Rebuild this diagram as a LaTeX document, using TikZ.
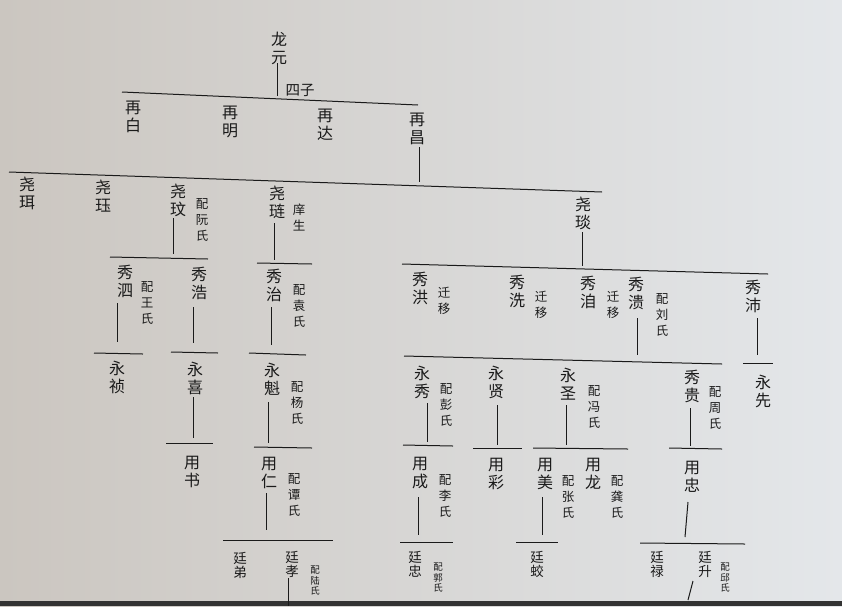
\documentclass[tikz,border=0pt]{standalone}
\usepackage{fontspec}
\newfontfamily\cjk{Noto Sans CJK SC}
\definecolor{ink}{HTML}{1A1A1A}
\definecolor{paperL}{HTML}{CBC6C0}
\definecolor{paperR}{HTML}{E4E7EA}
\tikzset{
  nm/.style={font=\cjk\fontsize{16}{18}\selectfont, align=center, inner sep=0pt, text=ink},
  sp/.style={font=\cjk\fontsize{12.5}{16}\selectfont, align=center, inner sep=0pt, text=ink},
  tn/.style={font=\cjk\fontsize{9.5}{10.5}\selectfont, align=center, inner sep=0pt, text=ink},
  tg/.style={font=\cjk\fontsize{13.5}{14}\selectfont, align=center, inner sep=0pt, text=ink},
  ln/.style={draw=ink, line width=1pt},
}
\begin{document}
\begin{tikzpicture}[x=1pt,y=-1pt]
\shade[left color=paperL, right color=paperR] (0,0) rectangle (842,606);
\fill[black!80] (0,601) rectangle (842,606);
\useasboundingbox (0,0) rectangle (842,606);

% ---------- names ----------
\node[nm] (longyuan) at (279,48) {龙\\元};
\node[nm, font=\cjk\fontsize{14.5}{16}\selectfont] (sizi) at (300,90) {四子};

\node[nm] (zbai)  at (133,117) {再\\白};
\node[nm] (zming) at (230,122) {再\\明};
\node[nm] (zda)   at (325,125) {再\\达};
\node[nm] (zchang) at (417,129) {再\\昌};

\node[nm] (yer)  at (27,193)  {尧\\珥};
\node[nm] (yjue) at (103,196) {尧\\珏};
\node[nm] (ywen) at (178,200) {尧\\玟};
\node[sp] (ywenp) at (202,220) {配\\阮\\氏};
\node[nm] (ylian) at (277,202) {尧\\琏};
\node[sp] (ylianp) at (299,217) {庠\\生};
\node[nm] (yyan) at (583,213) {尧\\琰};

\node[nm] (xsi)  at (125,281) {秀\\泗};
\node[sp] (xsip) at (147,303) {配\\王\\氏};
\node[nm] (xhao) at (199,283) {秀\\浩};
\node[nm] (xzhi) at (274,285) {秀\\治};
\node[sp] (xzhip) at (299,306) {配\\袁\\氏};
\node[nm] (xhong) at (420,288) {秀\\洪};
\node[sp] (xhongp) at (444,301) {迁\\移};
\node[nm] (xxi) at (517,291) {秀\\洗};
\node[sp] (xxip) at (541,305) {迁\\移};
\node[nm] (xji) at (588,292) {秀\\洎};
\node[sp] (xjip) at (613,305) {迁\\移};
\node[nm] (xkui) at (636,293) {秀\\溃};
\node[sp] (xkuip) at (662,315) {配\\刘\\氏};
\node[nm] (xpei) at (753,296) {秀\\沛};

\node[nm] (yzhen) at (117,377) {永\\祯};
\node[nm] (yxi)   at (195,378) {永\\喜};
\node[nm] (ykui)  at (272,379) {永\\魁};
\node[sp] (ykuip) at (297,403) {配\\杨\\氏};
\node[nm] (yxiu)  at (422,382) {永\\秀};
\node[sp] (yxiup) at (446,405) {配\\彭\\氏};
\node[nm] (yxian) at (496,382) {永\\贤};
\node[nm] (ysheng) at (568,384) {永\\圣};
\node[sp] (yshengp) at (594,407) {配\\冯\\氏};
\node[nm] (xgui)  at (692,386) {秀\\贵};
\node[sp] (xguip) at (715,408) {配\\周\\氏};
\node[nm] (yxianx) at (763,391) {永\\先};

\node[nm] (ushu)  at (192,472) {用\\书};
\node[nm] (uren)  at (269,473) {用\\仁};
\node[sp] (urenp) at (294,495) {配\\谭\\氏};
\node[nm] (ucheng) at (420,473) {用\\成};
\node[sp] (uchengp) at (445,496) {配\\李\\氏};
\node[nm] (ucai)  at (496,474) {用\\彩};
\node[nm] (umei)  at (545,474) {用\\美};
\node[sp] (umeip) at (568,497) {配\\张\\氏};
\node[nm] (ulong) at (593,474) {用\\龙};
\node[sp] (ulongp) at (617,497) {配\\龚\\氏};
\node[nm] (uzhong) at (692,477) {用\\忠};

\node[tg] (tdi)  at (240,565) {廷\\弟};
\node[tg] (txiao) at (292,564) {廷\\孝};
\node[tn] (txiaop) at (315,581) {配\\陆\\氏};
\node[tg] (tzhong) at (415,564) {廷\\忠};
\node[tn] (tzhongp) at (438,578) {配\\郭\\氏};
\node[tg] (tjiao) at (537,564) {廷\\蛟};
\node[tg] (tlu) at (657,564) {廷\\禄};
\node[tg] (tsheng) at (705,564) {廷\\升};
\node[tn] (tshengp) at (725,578) {配\\邱\\氏};

% ---------- connector points ----------
\coordinate (v0a) at (277,63);  \coordinate (v0b) at (277,96);
\coordinate (b0a) at (122,92);  \coordinate (b0b) at (418,105);
\coordinate (v1a) at (419,147); \coordinate (v1b) at (419,182);
\coordinate (b1a) at (9,172);   \coordinate (b1b) at (602,192);

\coordinate (vwa) at (173,218); \coordinate (vwb) at (173,254);
\coordinate (bwa) at (110,257); \coordinate (bwb) at (208,259);
\coordinate (vsia) at (117,303); \coordinate (vsib) at (117,342);
\coordinate (bsia) at (94,353);  \coordinate (bsib) at (143,354);
\coordinate (vhaoa) at (193,307); \coordinate (vhaob) at (193,343);
\coordinate (bhaoa) at (171,352); \coordinate (bhaob) at (218,353);
\coordinate (vxia) at (193,397); \coordinate (vxib) at (193,438);
\coordinate (bxia) at (166,443); \coordinate (bxib) at (213,443);

\coordinate (vla) at (274,223); \coordinate (vlb) at (274,260);
\coordinate (bla) at (257,263); \coordinate (blb) at (312,264);
\coordinate (vzha) at (271,307); \coordinate (vzhb) at (271,345);
\coordinate (bzha) at (249,353); \coordinate (bzhb) at (306,355);
\coordinate (vka) at (268,402); \coordinate (vkb) at (268,443);
\coordinate (bka) at (254,447); \coordinate (bkb) at (312,448);
\coordinate (vra) at (266,493); \coordinate (vrb) at (266,530);
\coordinate (bra) at (223,540); \coordinate (brb) at (333,540);
\coordinate (vtxa) at (288,578); \coordinate (vtxb) at (288,606);

\coordinate (vya) at (582,232); \coordinate (vyb) at (582,266);
\coordinate (bya) at (402,264); \coordinate (byb) at (768,274);
\coordinate (vkua) at (637,318); \coordinate (vkub) at (637,355);
\coordinate (bkua) at (404,356); \coordinate (bkub) at (722,364);
\coordinate (vpa) at (757,318); \coordinate (vpb) at (757,355);
\coordinate (bpa) at (743,363); \coordinate (bpb) at (773,363);

\coordinate (vxua) at (427,403); \coordinate (vxub) at (427,442);
\coordinate (bxua) at (403,445); \coordinate (bxub) at (453,446);
\coordinate (vcha) at (418,497); \coordinate (vchb) at (418,535);
\coordinate (bcha) at (400,542); \coordinate (bchb) at (453,542);
\coordinate (vxna) at (497,405); \coordinate (vxnb) at (497,445);
\coordinate (bxna) at (473,448); \coordinate (bxnb) at (522,448);
\coordinate (vsha) at (566,405); \coordinate (vshb) at (566,445);
\coordinate (bsha) at (533,448); \coordinate (bshb) at (628,449);
\coordinate (vmea) at (542,497); \coordinate (vmeb) at (542,535);
\coordinate (bmea) at (516,542); \coordinate (bmeb) at (558,542);
\coordinate (vgua) at (690,408); \coordinate (vgub) at (690,446);
\coordinate (bgua) at (669,448); \coordinate (bgub) at (722,449);
\coordinate (vzoa) at (688,502); \coordinate (vzob) at (685,537);
\coordinate (bzoa) at (640,543); \coordinate (bzob) at (745,544);
\coordinate (vtsa) at (693,581); \coordinate (vtsb) at (688,600);

% ---------- connectors ----------
\foreach \a/\b in {v0a/v0b,b0a/b0b,v1a/v1b,b1a/b1b,
  vwa/vwb,bwa/bwb,vsia/vsib,bsia/bsib,vhaoa/vhaob,bhaoa/bhaob,vxia/vxib,bxia/bxib,
  vla/vlb,bla/blb,vzha/vzhb,bzha/bzhb,vka/vkb,bka/bkb,vra/vrb,bra/brb,vtxa/vtxb,
  vya/vyb,bya/byb,vkua/vkub,bkua/bkub,vpa/vpb,bpa/bpb,
  vxua/vxub,bxua/bxub,vcha/vchb,bcha/bchb,vxna/vxnb,bxna/bxnb,vsha/vshb,bsha/bshb,
  vmea/vmeb,bmea/bmeb,vgua/vgub,bgua/bgub,vzoa/vzob,bzoa/bzob,vtsa/vtsb}
  \draw[ln] (\a) -- (\b);
\end{tikzpicture}
\end{document}
